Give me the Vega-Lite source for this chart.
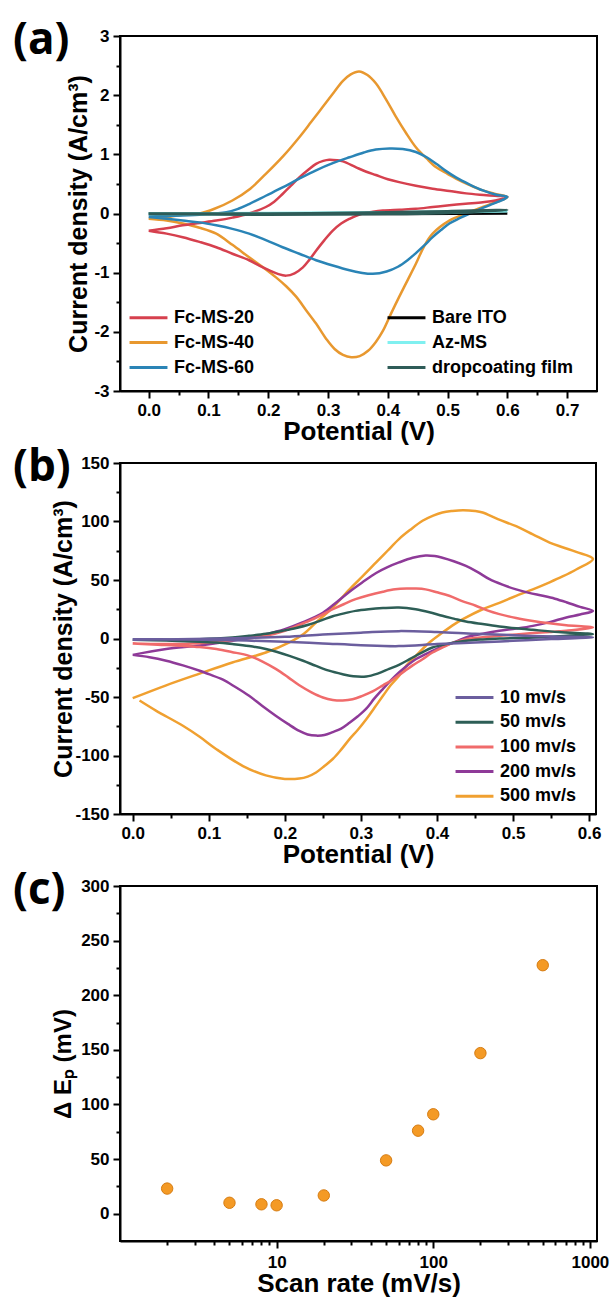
{
"$schema": "https://vega.github.io/schema/vega-lite/v6.json",
"padding": {"left": 12, "top": 18, "right": 5, "bottom": 2},
"background": "white",
"spacing": 72,
"bounds": "flush",
"resolve": {"scale": {"color": "independent"}, "legend": {"color": "independent"}},
"datasets": {
"a": [
{"s":"Fc-MS-40","k":0,"v":0,"c":-0.09},{"s":"Fc-MS-40","k":1,"v":0.03,"c":-0.06},{"s":"Fc-MS-40","k":2,"v":0.057,"c":-0.02},{"s":"Fc-MS-40","k":3,"v":0.085,"c":0},{"s":"Fc-MS-40","k":4,"v":0.11,"c":0.08},{"s":"Fc-MS-40","k":5,"v":0.14,"c":0.22},{"s":"Fc-MS-40","k":6,"v":0.17,"c":0.42},{"s":"Fc-MS-40","k":7,"v":0.196,"c":0.67},{"s":"Fc-MS-40","k":8,"v":0.225,"c":0.97},{"s":"Fc-MS-40","k":9,"v":0.252,"c":1.29},{"s":"Fc-MS-40","k":10,"v":0.272,"c":1.55},{"s":"Fc-MS-40","k":11,"v":0.291,"c":1.8},{"s":"Fc-MS-40","k":12,"v":0.31,"c":2.05},{"s":"Fc-MS-40","k":13,"v":0.325,"c":2.24},{"s":"Fc-MS-40","k":14,"v":0.338,"c":2.35},{"s":"Fc-MS-40","k":15,"v":0.352,"c":2.4},{"s":"Fc-MS-40","k":16,"v":0.366,"c":2.34},{"s":"Fc-MS-40","k":17,"v":0.38,"c":2.2},{"s":"Fc-MS-40","k":18,"v":0.397,"c":1.93},{"s":"Fc-MS-40","k":19,"v":0.414,"c":1.63},{"s":"Fc-MS-40","k":20,"v":0.43,"c":1.37},{"s":"Fc-MS-40","k":21,"v":0.447,"c":1.12},{"s":"Fc-MS-40","k":22,"v":0.465,"c":0.93},{"s":"Fc-MS-40","k":23,"v":0.481,"c":0.78},{"s":"Fc-MS-40","k":24,"v":0.5,"c":0.67},{"s":"Fc-MS-40","k":25,"v":0.514,"c":0.59},{"s":"Fc-MS-40","k":26,"v":0.535,"c":0.49},{"s":"Fc-MS-40","k":27,"v":0.559,"c":0.39},{"s":"Fc-MS-40","k":28,"v":0.58,"c":0.33},{"s":"Fc-MS-40","k":29,"v":0.6,"c":0.28},{"s":"Fc-MS-40","k":30,"v":0.58,"c":0.19},{"s":"Fc-MS-40","k":31,"v":0.559,"c":0.11},{"s":"Fc-MS-40","k":32,"v":0.531,"c":0},{"s":"Fc-MS-40","k":33,"v":0.503,"c":-0.12},{"s":"Fc-MS-40","k":34,"v":0.475,"c":-0.34},{"s":"Fc-MS-40","k":35,"v":0.461,"c":-0.55},{"s":"Fc-MS-40","k":36,"v":0.447,"c":-0.85},{"s":"Fc-MS-40","k":37,"v":0.433,"c":-1.13},{"s":"Fc-MS-40","k":38,"v":0.419,"c":-1.41},{"s":"Fc-MS-40","k":39,"v":0.405,"c":-1.7},{"s":"Fc-MS-40","k":40,"v":0.392,"c":-1.98},{"s":"Fc-MS-40","k":41,"v":0.38,"c":-2.17},{"s":"Fc-MS-40","k":42,"v":0.367,"c":-2.32},{"s":"Fc-MS-40","k":43,"v":0.353,"c":-2.41},{"s":"Fc-MS-40","k":44,"v":0.339,"c":-2.43},{"s":"Fc-MS-40","k":45,"v":0.325,"c":-2.39},{"s":"Fc-MS-40","k":46,"v":0.311,"c":-2.29},{"s":"Fc-MS-40","k":47,"v":0.297,"c":-2.12},{"s":"Fc-MS-40","k":48,"v":0.28,"c":-1.86},{"s":"Fc-MS-40","k":49,"v":0.263,"c":-1.63},{"s":"Fc-MS-40","k":50,"v":0.247,"c":-1.41},{"s":"Fc-MS-40","k":51,"v":0.23,"c":-1.23},{"s":"Fc-MS-40","k":52,"v":0.213,"c":-1.08},{"s":"Fc-MS-40","k":53,"v":0.19,"c":-0.9},{"s":"Fc-MS-40","k":54,"v":0.168,"c":-0.74},{"s":"Fc-MS-40","k":55,"v":0.14,"c":-0.53},{"s":"Fc-MS-40","k":56,"v":0.113,"c":-0.34},{"s":"Fc-MS-40","k":57,"v":0.085,"c":-0.24},{"s":"Fc-MS-40","k":58,"v":0.057,"c":-0.17},{"s":"Fc-MS-40","k":59,"v":0.03,"c":-0.12},{"s":"Fc-MS-40","k":60,"v":0,"c":-0.09},
{"s":"Fc-MS-20","k":0,"v":0,"c":-0.29},{"s":"Fc-MS-20","k":1,"v":0.03,"c":-0.25},{"s":"Fc-MS-20","k":2,"v":0.057,"c":-0.2},{"s":"Fc-MS-20","k":3,"v":0.085,"c":-0.16},{"s":"Fc-MS-20","k":4,"v":0.113,"c":-0.12},{"s":"Fc-MS-20","k":5,"v":0.14,"c":-0.07},{"s":"Fc-MS-20","k":6,"v":0.168,"c":0},{"s":"Fc-MS-20","k":7,"v":0.196,"c":0.11},{"s":"Fc-MS-20","k":8,"v":0.21,"c":0.2},{"s":"Fc-MS-20","k":9,"v":0.224,"c":0.33},{"s":"Fc-MS-20","k":10,"v":0.238,"c":0.47},{"s":"Fc-MS-20","k":11,"v":0.252,"c":0.61},{"s":"Fc-MS-20","k":12,"v":0.266,"c":0.73},{"s":"Fc-MS-20","k":13,"v":0.28,"c":0.84},{"s":"Fc-MS-20","k":14,"v":0.292,"c":0.89},{"s":"Fc-MS-20","k":15,"v":0.302,"c":0.91},{"s":"Fc-MS-20","k":16,"v":0.315,"c":0.9},{"s":"Fc-MS-20","k":17,"v":0.325,"c":0.88},{"s":"Fc-MS-20","k":18,"v":0.347,"c":0.78},{"s":"Fc-MS-20","k":19,"v":0.363,"c":0.71},{"s":"Fc-MS-20","k":20,"v":0.38,"c":0.65},{"s":"Fc-MS-20","k":21,"v":0.4,"c":0.58},{"s":"Fc-MS-20","k":22,"v":0.419,"c":0.53},{"s":"Fc-MS-20","k":23,"v":0.447,"c":0.47},{"s":"Fc-MS-20","k":24,"v":0.475,"c":0.42},{"s":"Fc-MS-20","k":25,"v":0.503,"c":0.38},{"s":"Fc-MS-20","k":26,"v":0.531,"c":0.34},{"s":"Fc-MS-20","k":27,"v":0.565,"c":0.31},{"s":"Fc-MS-20","k":28,"v":0.6,"c":0.28},{"s":"Fc-MS-20","k":29,"v":0.58,"c":0.22},{"s":"Fc-MS-20","k":30,"v":0.559,"c":0.19},{"s":"Fc-MS-20","k":31,"v":0.53,"c":0.165},{"s":"Fc-MS-20","k":32,"v":0.503,"c":0.14},{"s":"Fc-MS-20","k":33,"v":0.475,"c":0.11},{"s":"Fc-MS-20","k":34,"v":0.447,"c":0.08},{"s":"Fc-MS-20","k":35,"v":0.42,"c":0.065},{"s":"Fc-MS-20","k":36,"v":0.392,"c":0.05},{"s":"Fc-MS-20","k":37,"v":0.375,"c":0.03},{"s":"Fc-MS-20","k":38,"v":0.358,"c":0},{"s":"Fc-MS-20","k":39,"v":0.347,"c":-0.04},{"s":"Fc-MS-20","k":40,"v":0.336,"c":-0.09},{"s":"Fc-MS-20","k":41,"v":0.322,"c":-0.17},{"s":"Fc-MS-20","k":42,"v":0.308,"c":-0.29},{"s":"Fc-MS-20","k":43,"v":0.294,"c":-0.45},{"s":"Fc-MS-20","k":44,"v":0.28,"c":-0.63},{"s":"Fc-MS-20","k":45,"v":0.269,"c":-0.78},{"s":"Fc-MS-20","k":46,"v":0.258,"c":-0.91},{"s":"Fc-MS-20","k":47,"v":0.244,"c":-1.01},{"s":"Fc-MS-20","k":48,"v":0.23,"c":-1.05},{"s":"Fc-MS-20","k":49,"v":0.216,"c":-1.02},{"s":"Fc-MS-20","k":50,"v":0.202,"c":-0.96},{"s":"Fc-MS-20","k":51,"v":0.185,"c":-0.88},{"s":"Fc-MS-20","k":52,"v":0.168,"c":-0.79},{"s":"Fc-MS-20","k":53,"v":0.14,"c":-0.68},{"s":"Fc-MS-20","k":54,"v":0.113,"c":-0.57},{"s":"Fc-MS-20","k":55,"v":0.085,"c":-0.48},{"s":"Fc-MS-20","k":56,"v":0.057,"c":-0.4},{"s":"Fc-MS-20","k":57,"v":0.03,"c":-0.34},{"s":"Fc-MS-20","k":58,"v":0,"c":-0.29},
{"s":"Fc-MS-60","k":0,"v":0,"c":-0.05},{"s":"Fc-MS-60","k":1,"v":0.04,"c":-0.04},{"s":"Fc-MS-60","k":2,"v":0.085,"c":-0.02},{"s":"Fc-MS-60","k":3,"v":0.13,"c":0.02},{"s":"Fc-MS-60","k":4,"v":0.15,"c":0.08},{"s":"Fc-MS-60","k":5,"v":0.168,"c":0.16},{"s":"Fc-MS-60","k":6,"v":0.196,"c":0.3},{"s":"Fc-MS-60","k":7,"v":0.224,"c":0.44},{"s":"Fc-MS-60","k":8,"v":0.252,"c":0.59},{"s":"Fc-MS-60","k":9,"v":0.28,"c":0.73},{"s":"Fc-MS-60","k":10,"v":0.308,"c":0.85},{"s":"Fc-MS-60","k":11,"v":0.336,"c":0.95},{"s":"Fc-MS-60","k":12,"v":0.36,"c":1.03},{"s":"Fc-MS-60","k":13,"v":0.38,"c":1.08},{"s":"Fc-MS-60","k":14,"v":0.403,"c":1.1},{"s":"Fc-MS-60","k":15,"v":0.425,"c":1.09},{"s":"Fc-MS-60","k":16,"v":0.447,"c":1.04},{"s":"Fc-MS-60","k":17,"v":0.465,"c":0.95},{"s":"Fc-MS-60","k":18,"v":0.481,"c":0.84},{"s":"Fc-MS-60","k":19,"v":0.497,"c":0.72},{"s":"Fc-MS-60","k":20,"v":0.514,"c":0.61},{"s":"Fc-MS-60","k":21,"v":0.537,"c":0.49},{"s":"Fc-MS-60","k":22,"v":0.559,"c":0.39},{"s":"Fc-MS-60","k":23,"v":0.58,"c":0.32},{"s":"Fc-MS-60","k":24,"v":0.6,"c":0.28},{"s":"Fc-MS-60","k":25,"v":0.585,"c":0.2},{"s":"Fc-MS-60","k":26,"v":0.57,"c":0.14},{"s":"Fc-MS-60","k":27,"v":0.553,"c":0.07},{"s":"Fc-MS-60","k":28,"v":0.537,"c":0},{"s":"Fc-MS-60","k":29,"v":0.52,"c":-0.08},{"s":"Fc-MS-60","k":30,"v":0.503,"c":-0.17},{"s":"Fc-MS-60","k":31,"v":0.489,"c":-0.28},{"s":"Fc-MS-60","k":32,"v":0.475,"c":-0.4},{"s":"Fc-MS-60","k":33,"v":0.461,"c":-0.54},{"s":"Fc-MS-60","k":34,"v":0.447,"c":-0.67},{"s":"Fc-MS-60","k":35,"v":0.433,"c":-0.79},{"s":"Fc-MS-60","k":36,"v":0.417,"c":-0.9},{"s":"Fc-MS-60","k":37,"v":0.398,"c":-0.98},{"s":"Fc-MS-60","k":38,"v":0.375,"c":-1.02},{"s":"Fc-MS-60","k":39,"v":0.355,"c":-1.0},{"s":"Fc-MS-60","k":40,"v":0.336,"c":-0.96},{"s":"Fc-MS-60","k":41,"v":0.308,"c":-0.88},{"s":"Fc-MS-60","k":42,"v":0.28,"c":-0.79},{"s":"Fc-MS-60","k":43,"v":0.252,"c":-0.68},{"s":"Fc-MS-60","k":44,"v":0.224,"c":-0.57},{"s":"Fc-MS-60","k":45,"v":0.196,"c":-0.45},{"s":"Fc-MS-60","k":46,"v":0.168,"c":-0.34},{"s":"Fc-MS-60","k":47,"v":0.14,"c":-0.26},{"s":"Fc-MS-60","k":48,"v":0.113,"c":-0.2},{"s":"Fc-MS-60","k":49,"v":0.085,"c":-0.15},{"s":"Fc-MS-60","k":50,"v":0.057,"c":-0.12},{"s":"Fc-MS-60","k":51,"v":0.03,"c":-0.09},{"s":"Fc-MS-60","k":52,"v":0,"c":-0.06},
{"s":"Bare ITO","k":0,"v":0,"c":0},{"s":"Bare ITO","k":1,"v":0.3,"c":0},{"s":"Bare ITO","k":2,"v":0.6,"c":0},{"s":"Bare ITO","k":3,"v":0.3,"c":-0.01},{"s":"Bare ITO","k":4,"v":0,"c":0},
{"s":"Az-MS","k":0,"v":0,"c":0},{"s":"Az-MS","k":1,"v":0.2,"c":0.01},{"s":"Az-MS","k":2,"v":0.4,"c":0.02},{"s":"Az-MS","k":3,"v":0.6,"c":0.04},{"s":"Az-MS","k":4,"v":0.4,"c":0},{"s":"Az-MS","k":5,"v":0.2,"c":-0.01},{"s":"Az-MS","k":6,"v":0,"c":-0.01},
{"s":"dropcoating film","k":0,"v":0,"c":0},{"s":"dropcoating film","k":1,"v":0.2,"c":0},{"s":"dropcoating film","k":2,"v":0.4,"c":0.02},{"s":"dropcoating film","k":3,"v":0.5,"c":0.04},{"s":"dropcoating film","k":4,"v":0.6,"c":0.06},{"s":"dropcoating film","k":5,"v":0.5,"c":0.01},{"s":"dropcoating film","k":6,"v":0.4,"c":-0.01},{"s":"dropcoating film","k":7,"v":0.2,"c":-0.02},{"s":"dropcoating film","k":8,"v":0,"c":-0.01}
],
"b": [
{"s":"500 mv/s","k":0,"v":0,"c":-51},{"s":"500 mv/s","k":1,"v":0.044,"c":-40},{"s":"500 mv/s","k":2,"v":0.088,"c":-30},{"s":"500 mv/s","k":3,"v":0.131,"c":-20.5},{"s":"500 mv/s","k":4,"v":0.175,"c":-12},{"s":"500 mv/s","k":5,"v":0.206,"c":-3.4},{"s":"500 mv/s","k":6,"v":0.225,"c":4},{"s":"500 mv/s","k":7,"v":0.241,"c":13.7},{"s":"500 mv/s","k":8,"v":0.263,"c":26.5},{"s":"500 mv/s","k":9,"v":0.285,"c":42},{"s":"500 mv/s","k":10,"v":0.302,"c":53},{"s":"500 mv/s","k":11,"v":0.32,"c":65},{"s":"500 mv/s","k":12,"v":0.335,"c":75},{"s":"500 mv/s","k":13,"v":0.35,"c":85},{"s":"500 mv/s","k":14,"v":0.365,"c":93},{"s":"500 mv/s","k":15,"v":0.381,"c":100.6},{"s":"500 mv/s","k":16,"v":0.395,"c":105},{"s":"500 mv/s","k":17,"v":0.407,"c":107.7},{"s":"500 mv/s","k":18,"v":0.42,"c":109},{"s":"500 mv/s","k":19,"v":0.434,"c":109.7},{"s":"500 mv/s","k":20,"v":0.45,"c":109},{"s":"500 mv/s","k":21,"v":0.46,"c":107.7},{"s":"500 mv/s","k":22,"v":0.48,"c":102},{"s":"500 mv/s","k":23,"v":0.504,"c":96},{"s":"500 mv/s","k":24,"v":0.526,"c":89},{"s":"500 mv/s","k":25,"v":0.548,"c":82},{"s":"500 mv/s","k":26,"v":0.565,"c":78},{"s":"500 mv/s","k":27,"v":0.583,"c":74},{"s":"500 mv/s","k":28,"v":0.605,"c":68},{"s":"500 mv/s","k":29,"v":0.583,"c":59},{"s":"500 mv/s","k":30,"v":0.565,"c":53},{"s":"500 mv/s","k":31,"v":0.548,"c":48},{"s":"500 mv/s","k":32,"v":0.526,"c":42},{"s":"500 mv/s","k":33,"v":0.504,"c":36.5},{"s":"500 mv/s","k":34,"v":0.482,"c":30.5},{"s":"500 mv/s","k":35,"v":0.46,"c":25},{"s":"500 mv/s","k":36,"v":0.434,"c":16.5},{"s":"500 mv/s","k":37,"v":0.42,"c":11},{"s":"500 mv/s","k":38,"v":0.407,"c":5},{"s":"500 mv/s","k":39,"v":0.39,"c":-3.4},{"s":"500 mv/s","k":40,"v":0.372,"c":-15},{"s":"500 mv/s","k":41,"v":0.36,"c":-23},{"s":"500 mv/s","k":42,"v":0.35,"c":-32},{"s":"500 mv/s","k":43,"v":0.339,"c":-40},{"s":"500 mv/s","k":44,"v":0.329,"c":-49},{"s":"500 mv/s","k":45,"v":0.318,"c":-59},{"s":"500 mv/s","k":46,"v":0.307,"c":-69},{"s":"500 mv/s","k":47,"v":0.296,"c":-78},{"s":"500 mv/s","k":48,"v":0.285,"c":-86},{"s":"500 mv/s","k":49,"v":0.274,"c":-95},{"s":"500 mv/s","k":50,"v":0.263,"c":-103},{"s":"500 mv/s","k":51,"v":0.252,"c":-109},{"s":"500 mv/s","k":52,"v":0.241,"c":-114.5},{"s":"500 mv/s","k":53,"v":0.23,"c":-118},{"s":"500 mv/s","k":54,"v":0.219,"c":-119.7},{"s":"500 mv/s","k":55,"v":0.2,"c":-120},{"s":"500 mv/s","k":56,"v":0.175,"c":-117},{"s":"500 mv/s","k":57,"v":0.145,"c":-109},{"s":"500 mv/s","k":58,"v":0.11,"c":-94.6},{"s":"500 mv/s","k":59,"v":0.088,"c":-84},{"s":"500 mv/s","k":60,"v":0.066,"c":-74.6},{"s":"500 mv/s","k":61,"v":0.031,"c":-61.8},{"s":"500 mv/s","k":62,"v":0.009,"c":-53},
{"s":"200 mv/s","k":0,"v":0,"c":-14},{"s":"200 mv/s","k":1,"v":0.044,"c":-9},{"s":"200 mv/s","k":2,"v":0.088,"c":-6},{"s":"200 mv/s","k":3,"v":0.131,"c":-2},{"s":"200 mv/s","k":4,"v":0.175,"c":3.7},{"s":"200 mv/s","k":5,"v":0.2,"c":8},{"s":"200 mv/s","k":6,"v":0.223,"c":13.7},{"s":"200 mv/s","k":7,"v":0.25,"c":22},{"s":"200 mv/s","k":8,"v":0.268,"c":31},{"s":"200 mv/s","k":9,"v":0.285,"c":40},{"s":"200 mv/s","k":10,"v":0.302,"c":48},{"s":"200 mv/s","k":11,"v":0.32,"c":56},{"s":"200 mv/s","k":12,"v":0.335,"c":61},{"s":"200 mv/s","k":13,"v":0.35,"c":65},{"s":"200 mv/s","k":14,"v":0.368,"c":69},{"s":"200 mv/s","k":15,"v":0.385,"c":71},{"s":"200 mv/s","k":16,"v":0.397,"c":70.5},{"s":"200 mv/s","k":17,"v":0.407,"c":69},{"s":"200 mv/s","k":18,"v":0.422,"c":66},{"s":"200 mv/s","k":19,"v":0.438,"c":62},{"s":"200 mv/s","k":20,"v":0.453,"c":57},{"s":"200 mv/s","k":21,"v":0.469,"c":50.7},{"s":"200 mv/s","k":22,"v":0.486,"c":46},{"s":"200 mv/s","k":23,"v":0.504,"c":42},{"s":"200 mv/s","k":24,"v":0.521,"c":39},{"s":"200 mv/s","k":25,"v":0.539,"c":36.5},{"s":"200 mv/s","k":26,"v":0.555,"c":34},{"s":"200 mv/s","k":27,"v":0.57,"c":31},{"s":"200 mv/s","k":28,"v":0.588,"c":27},{"s":"200 mv/s","k":29,"v":0.605,"c":23.6},{"s":"200 mv/s","k":30,"v":0.588,"c":20.5},{"s":"200 mv/s","k":31,"v":0.57,"c":18},{"s":"200 mv/s","k":32,"v":0.548,"c":14},{"s":"200 mv/s","k":33,"v":0.526,"c":10.8},{"s":"200 mv/s","k":34,"v":0.504,"c":8.5},{"s":"200 mv/s","k":35,"v":0.482,"c":6.6},{"s":"200 mv/s","k":36,"v":0.46,"c":4},{"s":"200 mv/s","k":37,"v":0.438,"c":0.9},{"s":"200 mv/s","k":38,"v":0.427,"c":-2},{"s":"200 mv/s","k":39,"v":0.416,"c":-4.8},{"s":"200 mv/s","k":40,"v":0.405,"c":-7.5},{"s":"200 mv/s","k":41,"v":0.394,"c":-10.5},{"s":"200 mv/s","k":42,"v":0.383,"c":-14},{"s":"200 mv/s","k":43,"v":0.372,"c":-17.7},{"s":"200 mv/s","k":44,"v":0.361,"c":-23},{"s":"200 mv/s","k":45,"v":0.35,"c":-29},{"s":"200 mv/s","k":46,"v":0.339,"c":-36},{"s":"200 mv/s","k":47,"v":0.329,"c":-43},{"s":"200 mv/s","k":48,"v":0.318,"c":-51},{"s":"200 mv/s","k":49,"v":0.307,"c":-60},{"s":"200 mv/s","k":50,"v":0.296,"c":-66.5},{"s":"200 mv/s","k":51,"v":0.285,"c":-72},{"s":"200 mv/s","k":52,"v":0.274,"c":-77},{"s":"200 mv/s","k":53,"v":0.263,"c":-80},{"s":"200 mv/s","k":54,"v":0.252,"c":-82.5},{"s":"200 mv/s","k":55,"v":0.241,"c":-83},{"s":"200 mv/s","k":56,"v":0.23,"c":-82},{"s":"200 mv/s","k":57,"v":0.219,"c":-79},{"s":"200 mv/s","k":58,"v":0.204,"c":-73},{"s":"200 mv/s","k":59,"v":0.188,"c":-66},{"s":"200 mv/s","k":60,"v":0.17,"c":-57.5},{"s":"200 mv/s","k":61,"v":0.153,"c":-49},{"s":"200 mv/s","k":62,"v":0.135,"c":-41.5},{"s":"200 mv/s","k":63,"v":0.118,"c":-35},{"s":"200 mv/s","k":64,"v":0.1,"c":-30.5},{"s":"200 mv/s","k":65,"v":0.088,"c":-27.6},{"s":"200 mv/s","k":66,"v":0.066,"c":-23},{"s":"200 mv/s","k":67,"v":0.044,"c":-19},{"s":"200 mv/s","k":68,"v":0.022,"c":-16},{"s":"200 mv/s","k":69,"v":0,"c":-14},
{"s":"100 mv/s","k":0,"v":0,"c":-4.3},{"s":"100 mv/s","k":1,"v":0.044,"c":-4.8},{"s":"100 mv/s","k":2,"v":0.088,"c":-4},{"s":"100 mv/s","k":3,"v":0.131,"c":-1.4},{"s":"100 mv/s","k":4,"v":0.175,"c":2.3},{"s":"100 mv/s","k":5,"v":0.2,"c":6.6},{"s":"100 mv/s","k":6,"v":0.215,"c":10.5},{"s":"100 mv/s","k":7,"v":0.232,"c":15},{"s":"100 mv/s","k":8,"v":0.248,"c":20},{"s":"100 mv/s","k":9,"v":0.263,"c":25},{"s":"100 mv/s","k":10,"v":0.278,"c":29.5},{"s":"100 mv/s","k":11,"v":0.293,"c":33.6},{"s":"100 mv/s","k":12,"v":0.31,"c":37},{"s":"100 mv/s","k":13,"v":0.329,"c":40},{"s":"100 mv/s","k":14,"v":0.345,"c":42},{"s":"100 mv/s","k":15,"v":0.36,"c":42.7},{"s":"100 mv/s","k":16,"v":0.372,"c":42.7},{"s":"100 mv/s","k":17,"v":0.385,"c":42},{"s":"100 mv/s","k":18,"v":0.4,"c":39.5},{"s":"100 mv/s","k":19,"v":0.416,"c":36.5},{"s":"100 mv/s","k":20,"v":0.433,"c":32},{"s":"100 mv/s","k":21,"v":0.451,"c":28},{"s":"100 mv/s","k":22,"v":0.466,"c":24},{"s":"100 mv/s","k":23,"v":0.482,"c":20.8},{"s":"100 mv/s","k":24,"v":0.504,"c":17.5},{"s":"100 mv/s","k":25,"v":0.526,"c":15},{"s":"100 mv/s","k":26,"v":0.548,"c":13},{"s":"100 mv/s","k":27,"v":0.57,"c":11.4},{"s":"100 mv/s","k":28,"v":0.605,"c":9.4},{"s":"100 mv/s","k":29,"v":0.57,"c":6.6},{"s":"100 mv/s","k":30,"v":0.548,"c":5.5},{"s":"100 mv/s","k":31,"v":0.526,"c":4.6},{"s":"100 mv/s","k":32,"v":0.504,"c":3.5},{"s":"100 mv/s","k":33,"v":0.482,"c":2.3},{"s":"100 mv/s","k":34,"v":0.46,"c":1},{"s":"100 mv/s","k":35,"v":0.438,"c":-0.6},{"s":"100 mv/s","k":36,"v":0.422,"c":-3.5},{"s":"100 mv/s","k":37,"v":0.407,"c":-7.7},{"s":"100 mv/s","k":38,"v":0.394,"c":-12},{"s":"100 mv/s","k":39,"v":0.381,"c":-17.7},{"s":"100 mv/s","k":40,"v":0.368,"c":-23},{"s":"100 mv/s","k":41,"v":0.355,"c":-29},{"s":"100 mv/s","k":42,"v":0.342,"c":-35},{"s":"100 mv/s","k":43,"v":0.329,"c":-40},{"s":"100 mv/s","k":44,"v":0.316,"c":-45},{"s":"100 mv/s","k":45,"v":0.302,"c":-49},{"s":"100 mv/s","k":46,"v":0.289,"c":-52},{"s":"100 mv/s","k":47,"v":0.276,"c":-53},{"s":"100 mv/s","k":48,"v":0.263,"c":-52.5},{"s":"100 mv/s","k":49,"v":0.25,"c":-50.4},{"s":"100 mv/s","k":50,"v":0.235,"c":-46},{"s":"100 mv/s","k":51,"v":0.219,"c":-40},{"s":"100 mv/s","k":52,"v":0.204,"c":-33},{"s":"100 mv/s","k":53,"v":0.188,"c":-26},{"s":"100 mv/s","k":54,"v":0.17,"c":-19.5},{"s":"100 mv/s","k":55,"v":0.153,"c":-14.8},{"s":"100 mv/s","k":56,"v":0.13,"c":-11.5},{"s":"100 mv/s","k":57,"v":0.11,"c":-9},{"s":"100 mv/s","k":58,"v":0.088,"c":-7.3},{"s":"100 mv/s","k":59,"v":0.066,"c":-6.3},{"s":"100 mv/s","k":60,"v":0.033,"c":-5.3},{"s":"100 mv/s","k":61,"v":0,"c":-4.3},
{"s":"50 mv/s","k":0,"v":0,"c":-1.1},{"s":"50 mv/s","k":1,"v":0.088,"c":-0.6},{"s":"50 mv/s","k":2,"v":0.131,"c":0.8},{"s":"50 mv/s","k":3,"v":0.153,"c":2.3},{"s":"50 mv/s","k":4,"v":0.175,"c":4},{"s":"50 mv/s","k":5,"v":0.197,"c":6.6},{"s":"50 mv/s","k":6,"v":0.215,"c":9},{"s":"50 mv/s","k":7,"v":0.232,"c":12},{"s":"50 mv/s","k":8,"v":0.248,"c":15.5},{"s":"50 mv/s","k":9,"v":0.263,"c":19},{"s":"50 mv/s","k":10,"v":0.278,"c":21.5},{"s":"50 mv/s","k":11,"v":0.293,"c":23.6},{"s":"50 mv/s","k":12,"v":0.31,"c":25},{"s":"50 mv/s","k":13,"v":0.329,"c":26},{"s":"50 mv/s","k":14,"v":0.35,"c":26.5},{"s":"50 mv/s","k":15,"v":0.372,"c":25},{"s":"50 mv/s","k":16,"v":0.39,"c":22.5},{"s":"50 mv/s","k":17,"v":0.407,"c":19.4},{"s":"50 mv/s","k":18,"v":0.422,"c":17},{"s":"50 mv/s","k":19,"v":0.438,"c":14.5},{"s":"50 mv/s","k":20,"v":0.46,"c":12.3},{"s":"50 mv/s","k":21,"v":0.482,"c":10.3},{"s":"50 mv/s","k":22,"v":0.504,"c":8.7},{"s":"50 mv/s","k":23,"v":0.526,"c":7.4},{"s":"50 mv/s","k":24,"v":0.56,"c":5.5},{"s":"50 mv/s","k":25,"v":0.605,"c":3.7},{"s":"50 mv/s","k":26,"v":0.58,"c":2.8},{"s":"50 mv/s","k":27,"v":0.548,"c":1.4},{"s":"50 mv/s","k":28,"v":0.515,"c":0.6},{"s":"50 mv/s","k":29,"v":0.482,"c":0},{"s":"50 mv/s","k":30,"v":0.46,"c":-0.8},{"s":"50 mv/s","k":31,"v":0.438,"c":-2},{"s":"50 mv/s","k":32,"v":0.416,"c":-4.3},{"s":"50 mv/s","k":33,"v":0.394,"c":-7.7},{"s":"50 mv/s","k":34,"v":0.38,"c":-12},{"s":"50 mv/s","k":35,"v":0.364,"c":-17.7},{"s":"50 mv/s","k":36,"v":0.35,"c":-22.5},{"s":"50 mv/s","k":37,"v":0.337,"c":-26},{"s":"50 mv/s","k":38,"v":0.322,"c":-30},{"s":"50 mv/s","k":39,"v":0.307,"c":-32.5},{"s":"50 mv/s","k":40,"v":0.29,"c":-32.3},{"s":"50 mv/s","k":41,"v":0.276,"c":-30.5},{"s":"50 mv/s","k":42,"v":0.258,"c":-27.5},{"s":"50 mv/s","k":43,"v":0.241,"c":-23.4},{"s":"50 mv/s","k":44,"v":0.224,"c":-19},{"s":"50 mv/s","k":45,"v":0.206,"c":-14.8},{"s":"50 mv/s","k":46,"v":0.19,"c":-11.5},{"s":"50 mv/s","k":47,"v":0.175,"c":-9},{"s":"50 mv/s","k":48,"v":0.153,"c":-6.5},{"s":"50 mv/s","k":49,"v":0.131,"c":-4.8},{"s":"50 mv/s","k":50,"v":0.11,"c":-3.5},{"s":"50 mv/s","k":51,"v":0.088,"c":-2.8},{"s":"50 mv/s","k":52,"v":0.044,"c":-1.8},{"s":"50 mv/s","k":53,"v":0,"c":-1.1},
{"s":"10 mv/s","k":0,"v":0,"c":-1},{"s":"10 mv/s","k":1,"v":0.1,"c":-0.3},{"s":"10 mv/s","k":2,"v":0.2,"c":1.5},{"s":"10 mv/s","k":3,"v":0.25,"c":3.5},{"s":"10 mv/s","k":4,"v":0.3,"c":5},{"s":"10 mv/s","k":5,"v":0.35,"c":6.3},{"s":"10 mv/s","k":6,"v":0.4,"c":5.5},{"s":"10 mv/s","k":7,"v":0.45,"c":4},{"s":"10 mv/s","k":8,"v":0.5,"c":2.8},{"s":"10 mv/s","k":9,"v":0.55,"c":1.8},{"s":"10 mv/s","k":10,"v":0.605,"c":1},{"s":"10 mv/s","k":11,"v":0.55,"c":-0.5},{"s":"10 mv/s","k":12,"v":0.5,"c":-2},{"s":"10 mv/s","k":13,"v":0.45,"c":-3.5},{"s":"10 mv/s","k":14,"v":0.4,"c":-4.8},{"s":"10 mv/s","k":15,"v":0.35,"c":-6.5},{"s":"10 mv/s","k":16,"v":0.3,"c":-5.7},{"s":"10 mv/s","k":17,"v":0.25,"c":-4.2},{"s":"10 mv/s","k":18,"v":0.2,"c":-2.8},{"s":"10 mv/s","k":19,"v":0.15,"c":-1.8},{"s":"10 mv/s","k":20,"v":0.1,"c":-1.1},{"s":"10 mv/s","k":21,"v":0.05,"c":-0.8},{"s":"10 mv/s","k":22,"v":0,"c":-0.6}
],
"c": [
{"r":2,"e":23},{"r":5,"e":10},{"r":8,"e":8.6},{"r":10,"e":7.7},{"r":20,"e":16.7},{"r":50,"e":48.8},{"r":80,"e":76},{"r":100,"e":91},{"r":200,"e":147},{"r":500,"e":227.5}
]
},
"vconcat": [
{
"width": 477, "height": 355,
"title": {"text": "(a)", "anchor": "start", "frame": "group", "orient": "top", "font": "Open Sans", "fontSize": 44, "fontWeight": "bold", "color": "black", "baseline": "middle", "dx": -107, "dy": 15, "offset": -43},
"layer": [
{"data": {"name": "a"},
"mark": {"type": "line", "strokeWidth": 2.5, "interpolate": "catmull-rom"},
"encoding": {
"x": {"field": "v", "type": "quantitative", "scale": {"domain": [-0.048, 0.75], "nice": false, "zero": false}, "axis": {"orient": "bottom", "title": "Potential (V)", "values": [0, 0.1, 0.2, 0.3, 0.4, 0.5, 0.6, 0.7], "format": ".1f", "titlePadding": 0}},
"y": {"field": "c", "type": "quantitative", "scale": {"domain": [-3, 3], "nice": false, "zero": false}, "axis": {"orient": "left", "title": "Current density (A/cm³)", "titleFontSize": 25, "values": [-3, -2, -1, 0, 1, 2, 3], "labelExpr": "replace(datum.label, '−', '-')", "titlePadding": 2}},
"color": {"field": "s", "type": "nominal", "scale": {"domain": ["Fc-MS-20", "Fc-MS-40", "Fc-MS-60", "Bare ITO", "Az-MS", "dropcoating film"], "range": ["#d6404e", "#e8982f", "#2a84b6", "#000000", "#80f0f0", "#2e5c58"]}, "legend": {"title": null, "orient": "none", "legendX": 15, "legendY": 268, "columns": 2, "columnPadding": 126, "rowPadding": 2, "labelOffset": 12, "padding": 0}},
"order": {"field": "k", "type": "quantitative"}
}},
{"data": {"name": "a"},
"mark": {"type": "line", "opacity": 0},
"encoding": {
"x": {"field": "v", "type": "quantitative", "scale": {"domain": [-0.048, 0.75], "nice": false, "zero": false}, "axis": {"orient": "bottom", "title": null, "labels": false, "domain": false, "tickSize": 4, "values": [0.05, 0.15, 0.25, 0.35, 0.45, 0.55, 0.65]}},
"y": {"field": "c", "type": "quantitative", "scale": {"domain": [-3, 3], "nice": false, "zero": false}, "axis": {"orient": "left", "title": null, "labels": false, "domain": false, "tickSize": 4, "values": [-2.5, -1.5, -0.5, 0.5, 1.5, 2.5]}}
}}
],
"resolve": {"axis": {"x": "independent", "y": "independent"}}
},
{
"width": 476, "height": 351,
"title": {"text": "(b)", "anchor": "start", "frame": "group", "orient": "top", "font": "Open Sans", "fontSize": 44, "fontWeight": "bold", "color": "black", "baseline": "middle", "dx": -107, "dy": 15, "offset": -43},
"layer": [
{"data": {"name": "b"},
"mark": {"type": "line", "strokeWidth": 2.5, "interpolate": "catmull-rom"},
"encoding": {
"x": {"field": "v", "type": "quantitative", "scale": {"domain": [-0.0167, 0.609], "nice": false, "zero": false}, "axis": {"orient": "bottom", "title": "Potential (V)", "values": [0, 0.1, 0.2, 0.3, 0.4, 0.5, 0.6], "format": ".1f", "titlePadding": 0}},
"y": {"field": "c", "type": "quantitative", "scale": {"domain": [-150, 150], "nice": false, "zero": false}, "axis": {"orient": "left", "title": "Current density (A/cm³)", "titleFontSize": 25, "values": [-150, -100, -50, 0, 50, 100, 150], "labelExpr": "replace(datum.label, '−', '-')", "titlePadding": -2}},
"color": {"field": "s", "type": "nominal", "scale": {"domain": ["10 mv/s", "50 mv/s", "100 mv/s", "200 mv/s", "500 mv/s"], "range": ["#6b5e9e", "#2d5e56", "#f06b6b", "#8e3a98", "#f0a030"]}, "legend": {"title": null, "orient": "none", "legendX": 341, "legendY": 221, "rowPadding": 1.7, "labelOffset": 12, "padding": 0, "labelExpr": "length(datum.label) < 8 ? '\u00a0' + datum.label : datum.label"}},
"order": {"field": "k", "type": "quantitative"}
}},
{"data": {"name": "b"},
"mark": {"type": "line", "opacity": 0},
"encoding": {
"x": {"field": "v", "type": "quantitative", "scale": {"domain": [-0.0167, 0.609], "nice": false, "zero": false}, "axis": {"orient": "bottom", "title": null, "labels": false, "domain": false, "tickSize": 4, "values": [0.05, 0.15, 0.25, 0.35, 0.45, 0.55]}},
"y": {"field": "c", "type": "quantitative", "scale": {"domain": [-150, 150], "nice": false, "zero": false}, "axis": {"orient": "left", "title": null, "labels": false, "domain": false, "tickSize": 4, "values": [-125, -75, -25, 25, 75, 125]}}
}}
],
"resolve": {"axis": {"x": "independent", "y": "independent"}}
},
{
"width": 477, "height": 355,
"title": {"text": "(c)", "anchor": "start", "frame": "group", "orient": "top", "font": "Open Sans", "fontSize": 44, "fontWeight": "bold", "color": "black", "baseline": "middle", "dx": -107, "dy": 15, "offset": -43},
"layer": [
{"data": {"name": "c"},
"mark": {"type": "circle", "size": 130, "color": "#f49a25", "stroke": "#d67c12", "strokeWidth": 1, "opacity": 1},
"encoding": {
"x": {"field": "r", "type": "quantitative", "scale": {"type": "log", "domain": [1, 1110], "nice": false}, "axis": {"orient": "bottom", "title": "Scan rate (mV/s)", "values": [10, 100, 1000], "format": "d", "labelPadding": 6, "titlePadding": 0}},
"y": {"field": "e", "type": "quantitative", "scale": {"domain": [-25, 300], "nice": false, "zero": false}, "axis": {"orient": "left", "title": "Δ Eₚ (mV)", "titleFontSize": 24, "values": [0, 50, 100, 150, 200, 250, 300], "titlePadding": 5}}
}},
{"data": {"name": "c"},
"mark": {"type": "circle", "opacity": 0},
"encoding": {
"x": {"field": "r", "type": "quantitative", "scale": {"type": "log", "domain": [1, 1110], "nice": false}, "axis": {"orient": "bottom", "title": null, "labels": false, "domain": false, "tickSize": 4, "values": [2, 3, 4, 5, 6, 7, 8, 9, 20, 30, 40, 50, 60, 70, 80, 90, 200, 300, 400, 500, 600, 700, 800, 900]}},
"y": {"field": "e", "type": "quantitative", "scale": {"domain": [-25, 300], "nice": false, "zero": false}, "axis": {"orient": "left", "title": null, "labels": false, "domain": false, "tickSize": 4, "values": [25, 75, 125, 175, 225, 275]}}
}}
],
"resolve": {"axis": {"x": "independent", "y": "independent"}}
}
],
"config": {
"font": "Liberation Sans",
"view": {"stroke": "black", "strokeWidth": 2},
"axis": {"grid": false, "domainColor": "black", "domainWidth": 2, "tickColor": "black", "tickWidth": 2, "tickSize": 7, "labelFont": "Liberation Sans", "labelFontSize": 17, "labelFontWeight": "bold", "labelColor": "black", "labelPadding": 4, "labelFlush": false, "labelOverlap": false, "titleFont": "Liberation Sans", "titleFontWeight": "bold", "titleColor": "black", "titleFontSize": 26},
"legend": {"labelFont": "Liberation Sans", "labelFontWeight": "bold", "labelFontSize": 18, "labelColor": "black", "symbolType": "M-1.58,0H1.58", "symbolStrokeWidth": 3, "symbolSize": 576, "labelLimit": 300}
}
}
